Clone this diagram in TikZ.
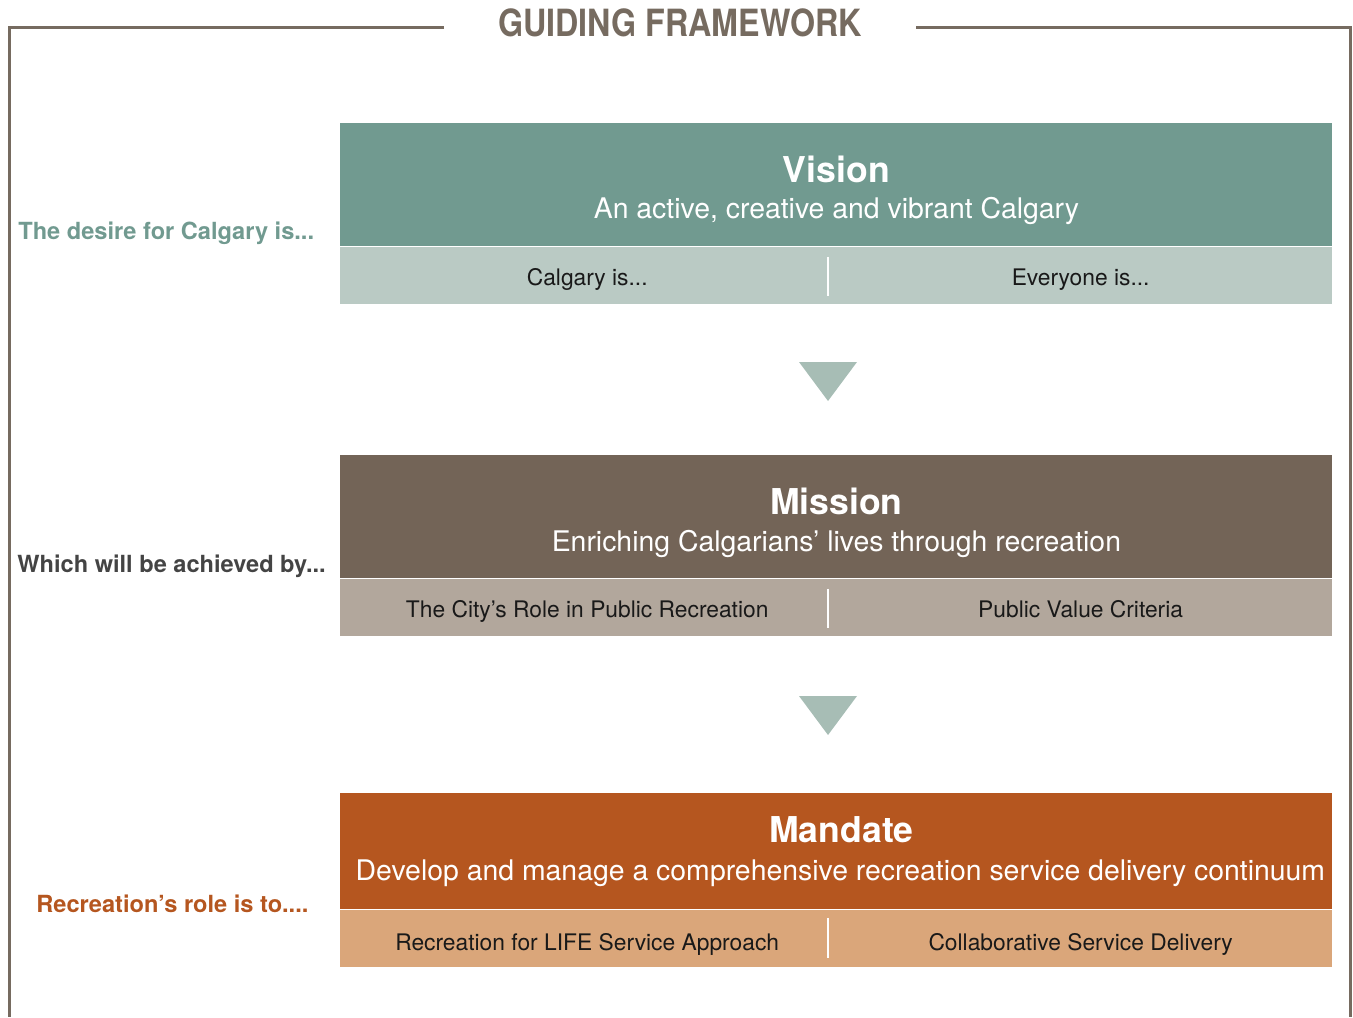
\documentclass[tikz,border=0pt]{standalone}
\usepackage{fontspec}
\setmainfont{TeX Gyre Heros}
\newfontfamily\condfont[FakeStretch=0.86]{TeX Gyre Heros}
\usepackage{xcolor}
\usepackage{tikz}
\usetikzlibrary{positioning,calc}
\definecolor{frameclr}{HTML}{766B60}
\definecolor{visiontop}{HTML}{719A90}
\definecolor{visionsub}{HTML}{BACAC4}
\definecolor{missiontop}{HTML}{736457}
\definecolor{missionsub}{HTML}{B2A79C}
\definecolor{mandatetop}{HTML}{B5561F}
\definecolor{mandatesub}{HTML}{DAA67A}
\definecolor{arrowclr}{HTML}{A7BDB5}
\definecolor{labelgray}{HTML}{444444}

\begin{document}
\begin{tikzpicture}[x=0.5pt,y=-0.5pt,
    head/.style={anchor=north west, minimum width=496pt, minimum height=61.5pt, inner sep=0pt},
    sub/.style={minimum width=496pt, minimum height=28.5pt, inner sep=0pt},
    bigtitle/.style={text=white, font=\fontsize{17.8}{21}\selectfont\bfseries},
    headline/.style={text=white, font=\fontsize{14.2}{17}\selectfont},
    item/.style={anchor=base, inner sep=0pt, text=black!90, font=\fontsize{11.4}{14}\selectfont},
    sidelabel/.style={anchor=west, inner sep=0pt, font=\fontsize{11.8}{14}\selectfont\bfseries},
    divider/.style={white, line width=1.2pt},
    tri/.style={fill=arrowclr}]
    \useasboundingbox (0,0) rectangle (1353,1017);

    % Frame and heading
    \node[text=frameclr, font=\condfont\fontsize{18.75}{22}\selectfont\bfseries] (title) at (680,23) {GUIDING FRAMEWORK};
    \draw[frameclr, line width=1.5pt] (444,27) -- (9,27) -- (9,1017);
    \draw[frameclr, line width=1.5pt] (916,27) -- (1350,27) -- (1350,1017);

    % Vision
    \node[head, fill=visiontop] (vhead) at (340,123) {};
    \node[sub, fill=visionsub, below=0pt of vhead] (vsub) {};
    \node[bigtitle] (vtitle) at ($(vhead.north)+(0,46)$) {Vision};
    \node[headline] (vtext) at ($(vhead.north)+(0,88)$) {An active, creative and vibrant Calgary};
    \node[item] (vleft) at ($(vsub.south west)!0.249!(vsub.south east)+(0,-19)$) {Calgary is...};
    \node[item] (vright) at ($(vsub.south west)!0.746!(vsub.south east)+(0,-19)$) {Everyone is...};
    \draw[divider] ($(vsub.north west)+(488,10)$) -- ($(vsub.south west)+(488,-9)$);
    \node[sidelabel, text=visiontop] (vlabel) at (18,233) {The desire for Calgary is...};

    \fill[tri] (799,362) -- (857,362) -- (828,401) -- cycle;

    % Mission
    \node[head, fill=missiontop] (mhead) at (340,455) {};
    \node[sub, fill=missionsub, below=0pt of mhead] (msub) {};
    \node[bigtitle] (mtitle) at ($(mhead.north)+(0,46)$) {Mission};
    \node[headline] (mtext) at ($(mhead.north)+(0,89)$) {Enriching Calgarians’ lives through recreation};
    \node[item] (mleft) at ($(msub.south west)!0.249!(msub.south east)+(0,-19)$) {The City’s Role in Public Recreation};
    \node[item] (mright) at ($(msub.south west)!0.746!(msub.south east)+(0,-19)$) {Public Value Criteria};
    \draw[divider] ($(msub.north west)+(488,10)$) -- ($(msub.south west)+(488,-9)$);
    \node[sidelabel, text=labelgray] (mlabel) at (17,566) {Which will be achieved by...};

    \fill[tri] (799,696) -- (857,696) -- (828,735) -- cycle;

    % Mandate
    \node[head, fill=mandatetop, minimum height=58pt] (dhead) at (340,793) {};
    \node[sub, fill=mandatesub, below=0pt of dhead] (dsub) {};
    \node[bigtitle] (dtitle) at ($(dhead.north)+(5,37)$) {Mandate};
    \node[headline] (dtext) at ($(dhead.north)+(4,80)$) {Develop and manage a comprehensive recreation service delivery continuum};
    \node[item] (dleft) at ($(dsub.south west)!0.249!(dsub.south east)+(0,-17)$) {Recreation for LIFE Service Approach};
    \node[item] (dright) at ($(dsub.south west)!0.746!(dsub.south east)+(0,-17)$) {Collaborative Service Delivery};
    \draw[divider] ($(dsub.north west)+(488,8)$) -- ($(dsub.south west)+(488,-10)$);
    \node[sidelabel, text=mandatetop] (dlabel) at (36,904) {Recreation’s role is to....};
\end{tikzpicture}
\end{document}
